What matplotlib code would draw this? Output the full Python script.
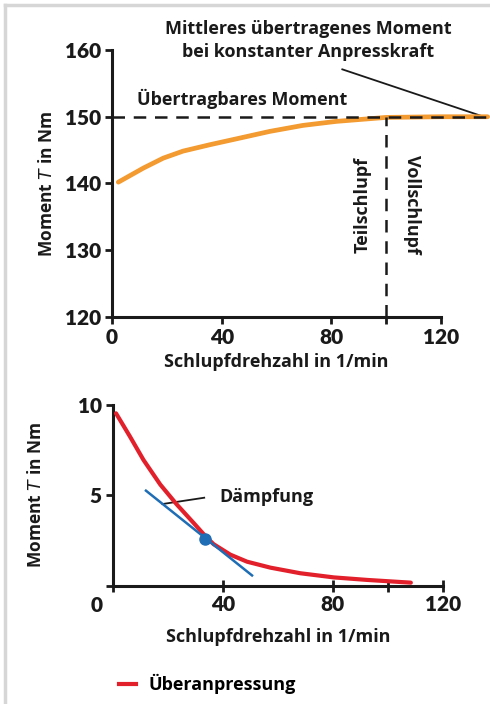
import matplotlib.pyplot as plt
from matplotlib.lines import Line2D

plt.rcParams['font.family'] = ['Open Sans', 'DejaVu Sans']

# данные: верхний график (момент при постоянной силе прижатия)
slip_top = [2.3, 11.4, 18.7, 25.9, 35.6, 47.7, 57.5, 69.6, 81.7, 93.8, 100, 120, 137]
torque_top = [140.2, 142.3, 143.8, 144.85, 145.8, 146.9, 147.8, 148.7, 149.3, 149.7, 149.9, 150.0, 150.0]
transfer_limit = 150
partial_full_border = 100

# данные: нижний график (Überanpressung)
slip_bot = [1.1, 6.2, 11.1, 17.2, 23.2, 29.3, 33.6, 36.6, 42.7, 48.8, 57.3, 68.2, 80.4, 92.6, 108.4]
torque_bot = [9.54, 8.25, 6.96, 5.6, 4.5, 3.48, 2.75, 2.3, 1.72, 1.33, 1.0, 0.69, 0.46, 0.32, 0.17]
tangent_x = [12.0, 50.6]
tangent_y = [5.26, 0.57]
point_x, point_y = 33.6, 2.6

top_xticks = [0, 40, 80, 100, 120]
top_xlabels = ['0', '40', '80', '', '120']
top_yticks = [120, 130, 140, 150, 160]
bot_xticks = [0, 40, 80, 100, 120]
bot_xlabels = ['', '40', '80', '', '120']
bot_yticks = [0, 5, 10]
bot_ylabels = ['', '5', '10']

ORANGE = '#f39a30'
RED = '#e2202b'
BLUE = '#1f6db5'
DARK = '#1a1a1a'
TXT = 13

fig = plt.figure(figsize=(4.9, 7.04), dpi=100)

# серая рамка слева и сверху
fig.add_artist(Line2D([0.011, 0.011], [0, 0.993], color='#d6d6d6', lw=2.5, transform=fig.transFigure))
fig.add_artist(Line2D([0.011, 1], [0.993, 0.993], color='#d6d6d6', lw=2.5, transform=fig.transFigure))

ax1 = fig.add_axes([0.2286, 0.5497, 0.6714, 0.3793])
ax2 = fig.add_axes([0.2306, 0.168, 0.6729, 0.2567])


def style_axes(ax):
    for s in ['top', 'right']:
        ax.spines[s].set_visible(False)
    for s in ['left', 'bottom']:
        ax.spines[s].set_linewidth(2.2)
        ax.spines[s].set_color(DARK)
    ax.tick_params(width=2, length=5, color=DARK, labelsize=15, labelcolor=DARK, pad=3)
    for lab in ax.get_xticklabels() + ax.get_yticklabels():
        lab.set_fontweight('heavy')
        lab.set_family(['Lato', 'DejaVu Sans'])


# верхний график
ax1.set_xlim(0, 120)
ax1.set_ylim(120, 160)
ax1.set_xticks(top_xticks)
ax1.set_xticklabels(top_xlabels)
ax1.set_yticks(top_yticks)
style_axes(ax1)
ax1.plot(slip_top, torque_top, color=ORANGE, lw=3.4, solid_capstyle='round', solid_joinstyle='round',
         clip_on=False, zorder=3)
ax1.plot([0, 137], [transfer_limit, transfer_limit], color=DARK, lw=1.8, ls=(0, (5, 3.5)), clip_on=False, zorder=4)
ax1.plot([partial_full_border, partial_full_border], [120, transfer_limit], color=DARK, lw=1.8,
         ls=(0, (5, 3.5)), clip_on=False, zorder=4)
ax1.plot([84, 135.6], [157.1, 150], color=DARK, lw=1.3, clip_on=False)
ax1.text(71.5, 161.45, 'Mittleres übertragenes Moment\nbei konstanter Anpresskraft', ha='center', va='center',
         fontsize=TXT, fontweight='bold', color=DARK, linespacing=1.35)
ax1.text(9, 152.7, 'Übertragbares Moment', ha='left', va='center', fontsize=TXT, fontweight='bold', color=DARK)
ax1.text(91.5, 136.8, 'Teilschlupf', rotation=90, ha='center', va='center', fontsize=TXT,
         fontweight='bold', color=DARK)
ax1.text(109.5, 136.8, 'Vollschlupf', rotation=270, ha='center', va='center', fontsize=TXT,
         fontweight='bold', color=DARK)
ax1.set_xlabel('Schlupfdrehzahl in 1/min', fontsize=TXT, fontweight='bold', color=DARK, labelpad=4)
ax1.set_ylabel('Moment $\\mathbf{\\mathit{T}}$ in Nm', fontsize=12.5, fontweight='bold', color=DARK, labelpad=6)

# нижний график
ax2.set_xlim(0, 120)
ax2.set_ylim(0, 10)
ax2.set_xticks(bot_xticks)
ax2.set_xticklabels(bot_xlabels)
ax2.set_yticks(bot_yticks)
ax2.set_yticklabels(bot_ylabels)
style_axes(ax2)
ax2.tick_params(axis='x', direction='inout', length=8)
ax2.plot(slip_bot, torque_bot, color=RED, lw=3, solid_capstyle='round', solid_joinstyle='round',
         clip_on=False, zorder=3)
ax2.plot(tangent_x, tangent_y, color=BLUE, lw=1.8, zorder=4)
ax2.plot([point_x], [point_y], 'o', color=BLUE, ms=8, zorder=5)
ax2.plot([18.0, 33.2], [4.52, 4.87], color=DARK, lw=1.3)
ax2.text(38.7, 4.89, 'Dämpfung', ha='left', va='center', fontsize=TXT, fontweight='bold', color=DARK)
ax2.annotate('0', (0, 0), xytext=(-12, -14), textcoords='offset points', ha='center', va='center',
             fontsize=15, fontweight='heavy', color=DARK, family=['Lato', 'DejaVu Sans'])
ax2.set_xlabel('Schlupfdrehzahl in 1/min', fontsize=TXT, fontweight='bold', color=DARK, labelpad=10)
ax2.set_ylabel('Moment $\\mathbf{\\mathit{T}}$ in Nm', fontsize=12.5, fontweight='bold', color=DARK, labelpad=24)
ax2.legend(handles=[Line2D([], [], color=RED, lw=3, label='Überanpressung')], loc='center left',
           bbox_to_anchor=(-0.03, -0.545), frameon=False, handlelength=0.9, handletextpad=0.7,
           prop={'size': TXT, 'weight': 'bold'})

fig.savefig('out.png', dpi=100)
